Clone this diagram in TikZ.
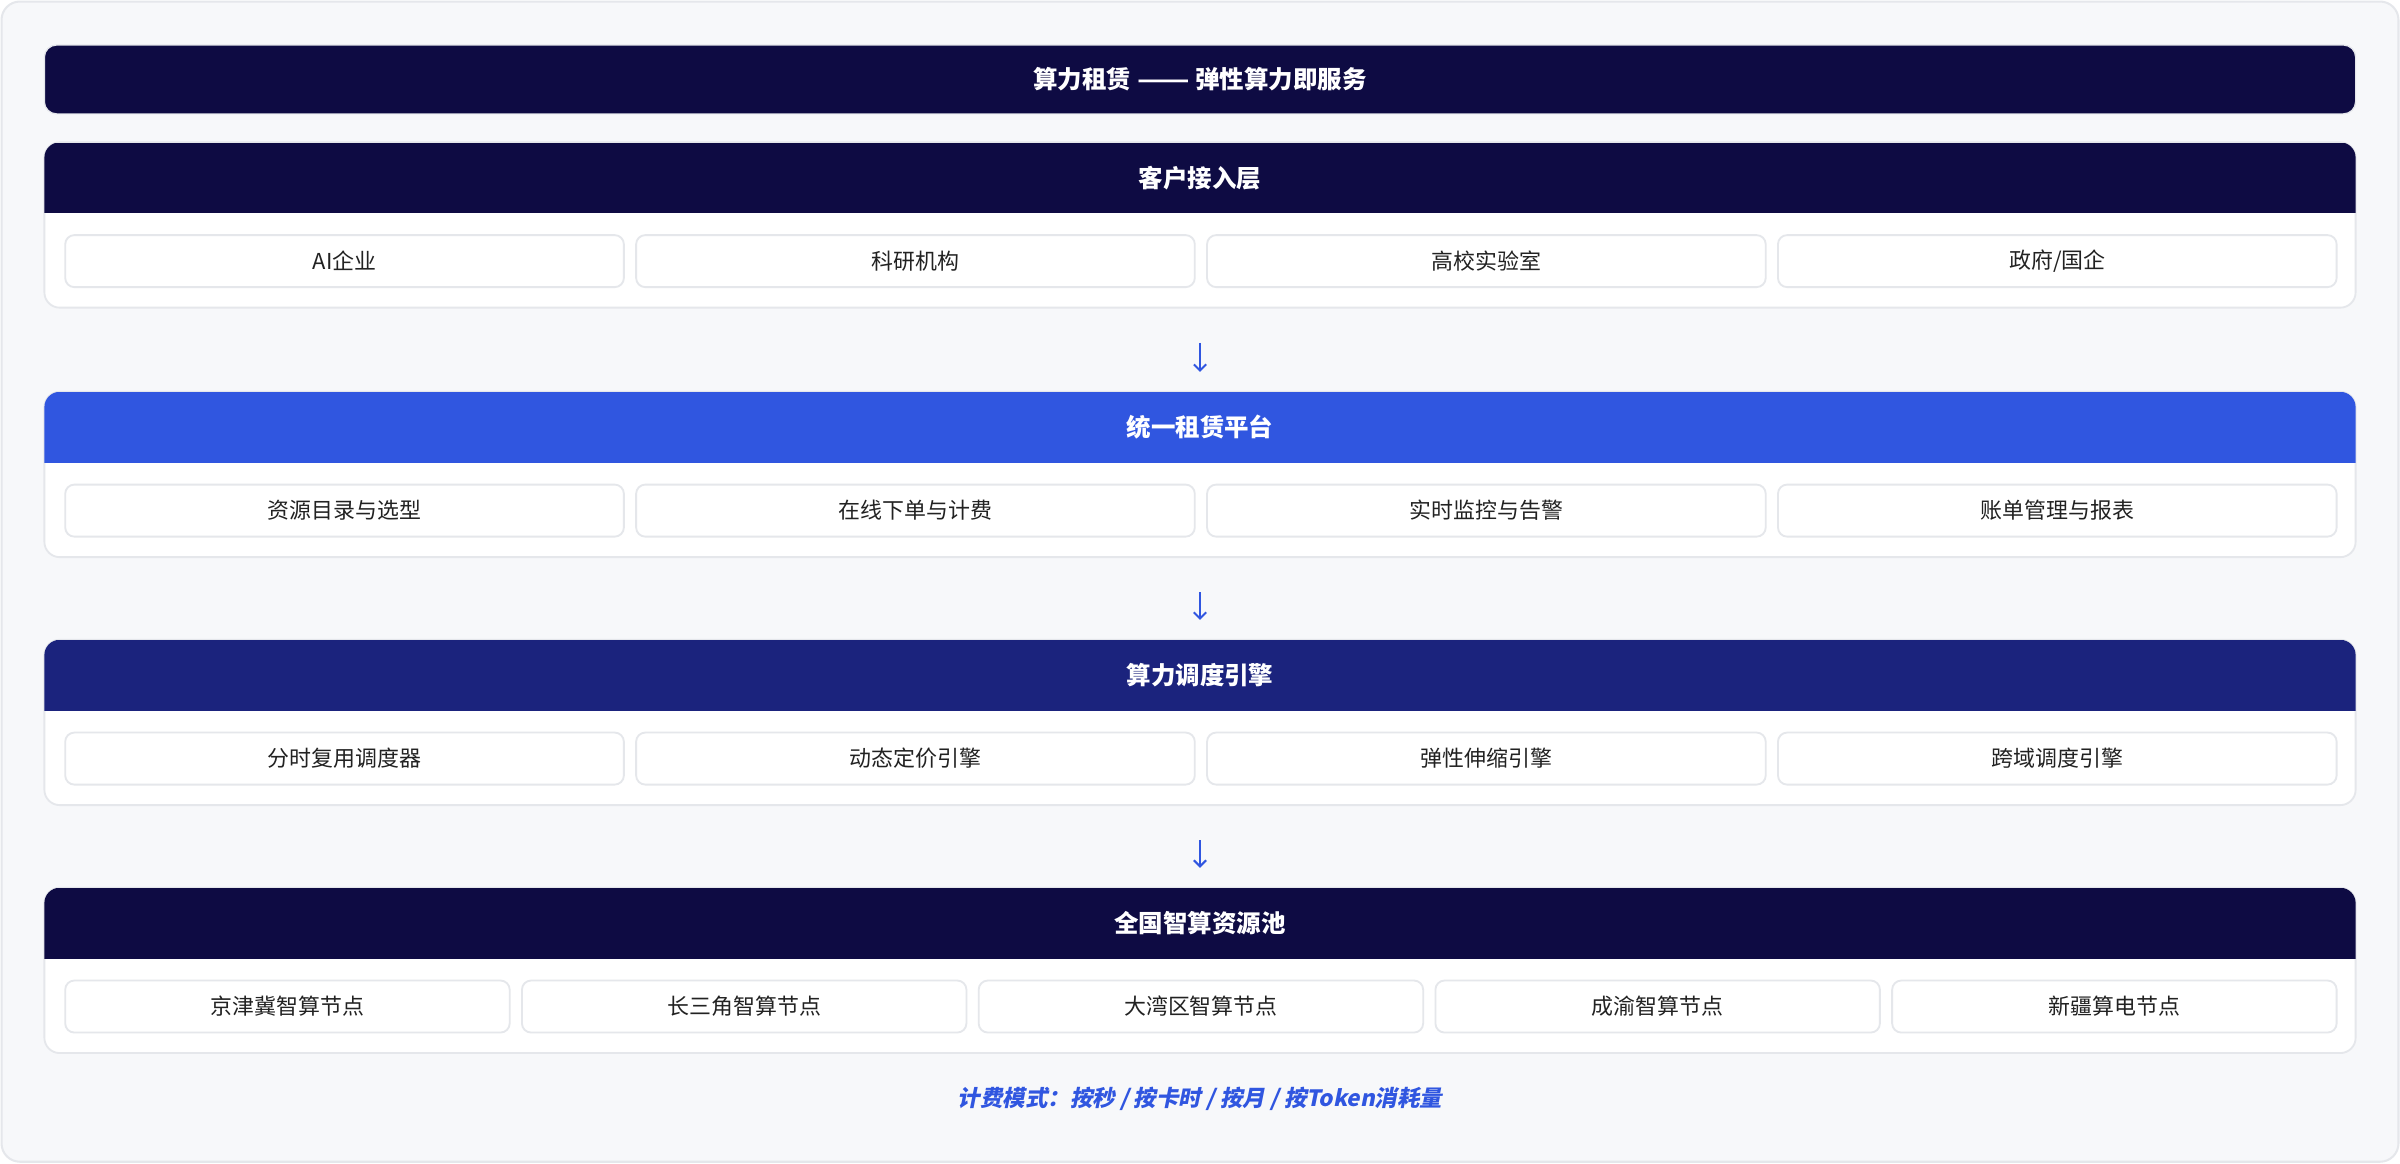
\documentclass[tikz,border=0pt]{standalone}
\usepackage{fontspec}
\setmainfont{Noto Sans CJK SC}
\newfontfamily\footfont{Noto Sans CJK SC}[BoldFeatures={FakeSlant=0.2}]
\usetikzlibrary{arrows.meta}
\definecolor{bg}{HTML}{F7F8FA}
\definecolor{bd}{HTML}{E5E7EB}
\definecolor{navyA}{HTML}{0E0B43}
\definecolor{blueA}{HTML}{3056E0}
\definecolor{navyB}{HTML}{1B237D}
\definecolor{txt}{HTML}{222222}
\begin{document}
\begin{tikzpicture}[x=0.75pt,y=-0.75pt,
 frame/.style={draw=bd, line width=1pt, fill=bg, rounded corners=9pt},
 titlebar/.style={draw=bd, line width=0.6pt, fill=navyA, rounded corners=6pt, minimum width=1510*0.75pt, minimum height=45*0.75pt, inner sep=0pt, anchor=north, text=white, font=\bfseries\fontsize{12}{14}\selectfont},
 layer/.style={draw=bd, line width=0.9pt, fill=white, rounded corners=7.5pt, minimum width=1510*0.75pt, minimum height=108*0.75pt, inner sep=0pt, outer sep=0pt, anchor=north},
 hdr/.style={minimum width=1512*0.75pt, minimum height=46*0.75pt, anchor=north, inner sep=0pt, text=white, font=\bfseries\fontsize{12}{14}\selectfont},
 cell/.style={draw=bd, line width=0.9pt, fill=white, rounded corners=4.5pt, minimum height=34*0.75pt, inner sep=0pt, anchor=north west, text=txt, font=\fontsize{10.75}{12}\selectfont},
 arr/.style={draw=blueA, line width=1pt, -{Straight Barb[length=3pt,width=6pt]}, shorten <=17.25pt, shorten >=9.75pt},
 foot/.style={text=blueA, font=\footfont\bfseries\fontsize{11}{13}\selectfont}
]
\useasboundingbox (0,0) rectangle (1568,760);
\draw[frame] (1,1) rectangle (1567,759);

\node[titlebar] (T) at (784,29) {算力租赁 \scalebox{1.25}[1]{——} 弹性算力即服务};

% Layer 1
\node[layer] (L1) at (784,93) {};
\begin{scope}
\clip[rounded corners=7.5pt] (29,93) rectangle (1539,201);
\node[hdr, fill=navyA] (H1) at (784,93) {客户接入层};
\end{scope}
\foreach \t [count=\i] in {AI企业,科研机构,高校实验室,政府/国企}
  \node[cell, minimum width=365*0.75pt] (c1\i) at ({42+(\i-1)*373},153) {\t};

% Layer 2
\node[layer] (L2) at (784,256) {};
\begin{scope}
\clip[rounded corners=7.5pt] (29,256) rectangle (1539,364);
\node[hdr, fill=blueA] (H2) at (784,256) {统一租赁平台};
\end{scope}
\foreach \t [count=\i] in {资源目录与选型,在线下单与计费,实时监控与告警,账单管理与报表}
  \node[cell, minimum width=365*0.75pt] (c2\i) at ({42+(\i-1)*373},316) {\t};

% Layer 3
\node[layer] (L3) at (784,418) {};
\begin{scope}
\clip[rounded corners=7.5pt] (29,418) rectangle (1539,526);
\node[hdr, fill=navyB] (H3) at (784,418) {算力调度引擎};
\end{scope}
\foreach \t [count=\i] in {分时复用调度器,动态定价引擎,弹性伸缩引擎,跨域调度引擎}
  \node[cell, minimum width=365*0.75pt] (c3\i) at ({42+(\i-1)*373},478) {\t};

% Layer 4
\node[layer] (L4) at (784,580) {};
\begin{scope}
\clip[rounded corners=7.5pt] (29,580) rectangle (1539,688);
\node[hdr, fill=navyA] (H4) at (784,580) {全国智算资源池};
\end{scope}
\foreach \t [count=\i] in {京津冀智算节点,长三角智算节点,大湾区智算节点,成渝智算节点,新疆算电节点}
  \node[cell, minimum width=290.4*0.75pt] (c4\i) at ({42+(\i-1)*298.4},640) {\t};

% arrows
\draw[arr] (L1.south) -- (L2.north);
\draw[arr] (L2.south) -- (L3.north);
\draw[arr] (L3.south) -- (L4.north);

\node[foot] (F) at (784,718) {计费模式：按秒 / 按卡时 / 按月 / 按Token消耗量};
\end{tikzpicture}
\end{document}
